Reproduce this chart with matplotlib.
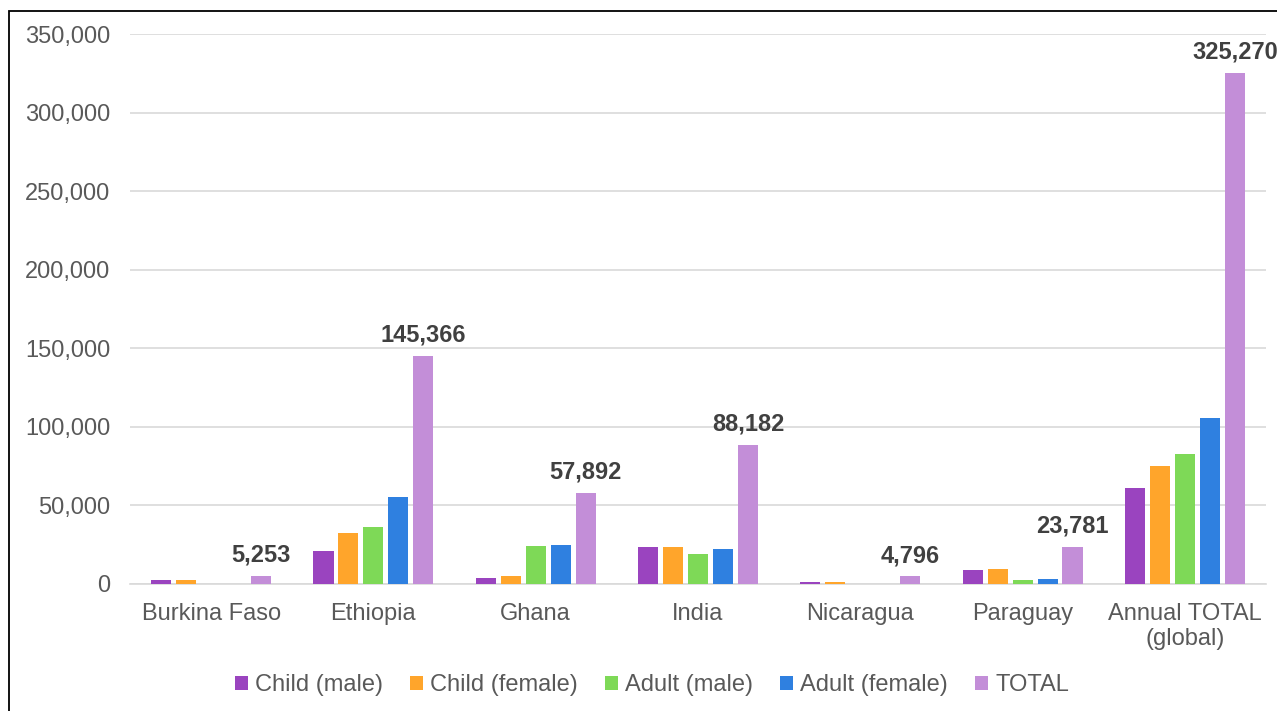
import numpy as np
import matplotlib.pyplot as plt
from matplotlib.patches import Rectangle
from matplotlib.ticker import FuncFormatter

# Values
countries = ['Burkina Faso', 'Ethiopia', 'Ghana', 'India', 'Nicaragua',
             'Paraguay', 'Annual TOTAL\n(global)']
child_male = [2700, 21300, 4000, 23500, 1500, 9000, 61000]
child_female = [2553, 32200, 5300, 23400, 1300, 9500, 75000]
adult_male = [0, 36500, 24000, 19300, 0, 2300, 82700]
adult_female = [0, 55366, 24592, 21982, 0, 2981, 105870]
total = [5253, 145366, 57892, 88182, 4796, 23781, 325270]

series_names = ['Child (male)', 'Child (female)', 'Adult (male)',
                'Adult (female)', 'TOTAL']
series = [child_male, child_female, adult_male, adult_female, total]
colors = ['#9A44BF', '#FFA52B', '#7ED957', '#2F80E0', '#C38ED8']

plt.rcParams['font.family'] = ['Liberation Sans', 'DejaVu Sans']

fig = plt.figure(figsize=(12.77, 7.11), dpi=100)
W, H = 1277, 711
ax = fig.add_axes([130 / W, 1 - 584 / H, (1266 - 130) / W, (584 - 34) / H])

# outer border (cropped on the right/bottom in the reference)
fig.patches.append(Rectangle((9 / W, -0.1), 1.2, 1 - 11 / H + 0.1,
                             transform=fig.transFigure, fill=False,
                             edgecolor='black', linewidth=1.3))

x = np.arange(len(countries))
step = 0.154
width = 0.124
for i, (name, vals, c) in enumerate(zip(series_names, series, colors)):
    pos = x + (i - 2) * step
    bars = ax.bar(pos, vals, width, color=c, label=name, zorder=3)
    if name == 'TOTAL':
        for b, v in zip(bars, vals):
            ax.text(b.get_x() + b.get_width() / 2, v + 6000, f'{v:,}',
                    ha='center', va='bottom', fontsize=17, fontweight='bold',
                    color='#404040')

ax.set_xlim(-0.5, len(countries) - 0.5)
ax.set_ylim(0, 350000)
ax.set_yticks(np.arange(0, 350001, 50000))
ax.yaxis.set_major_formatter(FuncFormatter(lambda v, p: f'{int(v):,}'))
ax.set_xticks(x)
ax.set_xticklabels(countries, linespacing=1.15)

ax.grid(axis='y', color='#D9D9D9', linewidth=1.2, zorder=0)
for s in ['top', 'right', 'left']:
    ax.spines[s].set_visible(False)
ax.spines['bottom'].set_color('#D9D9D9')
ax.spines['bottom'].set_linewidth(1.2)
ax.tick_params(axis='both', length=0, labelsize=17, labelcolor='#595959')
ax.tick_params(axis='y', pad=14)
ax.tick_params(axis='x', pad=14)

fig.legend(loc='center', bbox_to_anchor=(652 / W, 1 - 685 / H), ncol=5,
           frameon=False, fontsize=17, handlelength=0.55, handleheight=0.55,
           handletextpad=0.3, columnspacing=1.15, labelcolor='#595959')

fig.savefig('out.png', dpi=100)
